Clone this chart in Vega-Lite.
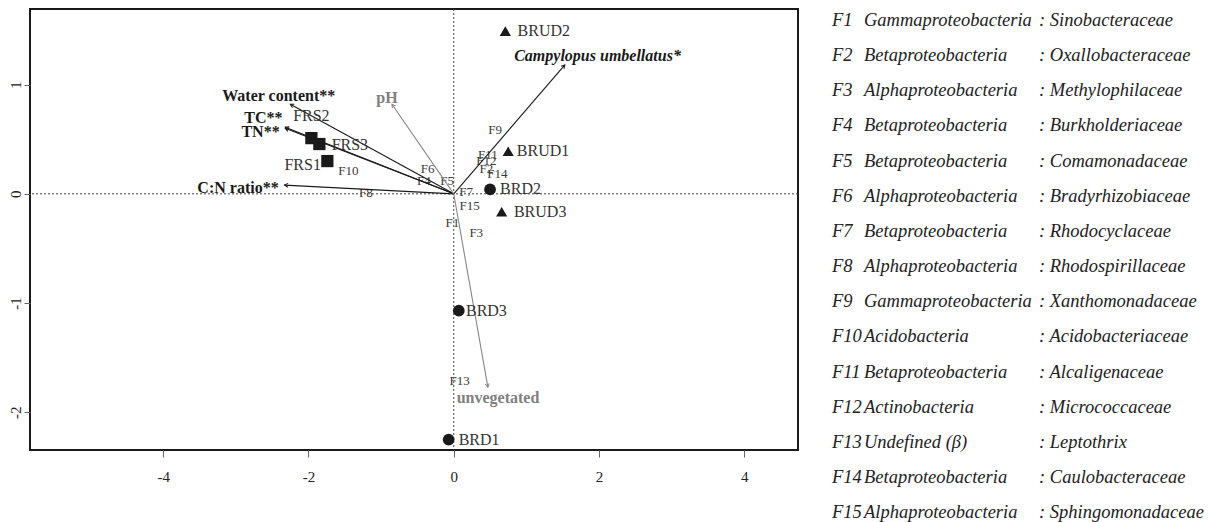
{
  "$schema": "https://vega.github.io/schema/vega-lite/v6.json",
  "padding": {"left": 7, "top": 7, "right": 0, "bottom": 0},
  "background": "white",
  "config": {"font": "Liberation Serif"},
  "datasets": {
    "sites": [
      {"site": "FRS1", "type": "FRS", "x": -1.74, "y": 0.30, "lx": -2.08, "ly": 0.26},
      {"site": "FRS2", "type": "FRS", "x": -1.96, "y": 0.51, "lx": -1.96, "ly": 0.71},
      {"site": "FRS3", "type": "FRS", "x": -1.85, "y": 0.456, "lx": -1.43, "ly": 0.45},
      {"site": "BRD1", "type": "BRD", "x": -0.07, "y": -2.25, "lx": 0.35, "ly": -2.25},
      {"site": "BRD2", "type": "BRD", "x": 0.50, "y": 0.04, "lx": 0.92, "ly": 0.04},
      {"site": "BRD3", "type": "BRD", "x": 0.07, "y": -1.07, "lx": 0.45, "ly": -1.07},
      {"site": "BRUD1", "type": "BRUD", "x": 0.75, "y": 0.39, "lx": 1.23, "ly": 0.39},
      {"site": "BRUD2", "type": "BRUD", "x": 0.71, "y": 1.49, "lx": 1.24, "ly": 1.49},
      {"site": "BRUD3", "type": "BRUD", "x": 0.66, "y": -0.164, "lx": 1.19, "ly": -0.166}
    ],
    "arrows": [
      {"var": "Campylopus umbellatus*", "kind": "moss", "ax": 1.53, "ay": 1.18, "lx": 1.98, "ly": 1.26},
      {"var": "Water content**", "kind": "sig", "ax": -2.25, "ay": 0.82, "lx": -2.41, "ly": 0.90},
      {"var": "TC**", "kind": "sig", "ax": -2.32, "ay": 0.61, "lx": -2.62, "ly": 0.69},
      {"var": "TN**", "kind": "sig", "ax": -2.32, "ay": 0.60, "lx": -2.66, "ly": 0.57},
      {"var": "C:N ratio**", "kind": "sig", "ax": -2.33, "ay": 0.08, "lx": -2.97, "ly": 0.054},
      {"var": "pH", "kind": "ns", "ax": -0.85, "ay": 0.82, "lx": -0.92, "ly": 0.88},
      {"var": "unvegetated", "kind": "ns", "ax": 0.47, "ay": -1.77, "lx": 0.61, "ly": -1.87}
    ],
    "families": [
      {"id": "F1", "x": -0.02, "y": -0.27, "cls": "Gammaproteobacteria", "fam": "Sinobacteraceae"},
      {"id": "F2", "x": 0.45, "y": 0.23, "cls": "Betaproteobacteria", "fam": "Oxallobacteraceae"},
      {"id": "F3", "x": 0.31, "y": -0.36, "cls": "Alphaproteobacteria", "fam": "Methylophilaceae"},
      {"id": "F4", "x": -0.41, "y": 0.12, "cls": "Betaproteobacteria", "fam": "Burkholderiaceae"},
      {"id": "F5", "x": -0.09, "y": 0.12, "cls": "Betaproteobacteria", "fam": "Comamonadaceae"},
      {"id": "F6", "x": -0.36, "y": 0.23, "cls": "Alphaproteobacteria", "fam": "Bradyrhizobiaceae"},
      {"id": "F7", "x": 0.17, "y": 0.02, "cls": "Betaproteobacteria", "fam": "Rhodocyclaceae"},
      {"id": "F8", "x": -1.21, "y": 0.01, "cls": "Alphaproteobacteria", "fam": "Rhodospirillaceae"},
      {"id": "F9", "x": 0.57, "y": 0.58, "cls": "Gammaproteobacteria", "fam": "Xanthomonadaceae"},
      {"id": "F10", "x": -1.45, "y": 0.21, "cls": "Acidobacteria", "fam": "Acidobacteriaceae"},
      {"id": "F11", "x": 0.47, "y": 0.36, "cls": "Betaproteobacteria", "fam": "Alcaligenaceae"},
      {"id": "F12", "x": 0.45, "y": 0.30, "cls": "Actinobacteria", "fam": "Micrococcaceae"},
      {"id": "F13", "x": 0.08, "y": -1.71, "cls": "Undefined (β)", "fam": "Leptothrix"},
      {"id": "F14", "x": 0.60, "y": 0.18, "cls": "Betaproteobacteria", "fam": "Caulobacteraceae"},
      {"id": "F15", "x": 0.22, "y": -0.11, "cls": "Alphaproteobacteria", "fam": "Sphingomonadaceae"}
    ]
  },
  "spacing": 32,
  "hconcat": [
    {
      "width": 768,
      "height": 441,
      "view": {"stroke": "#1a1a1a", "strokeWidth": 2},
      "layer": [
        {
          "data": {"name": "families"},
          "mark": {"type": "text", "fontSize": 13, "color": "#3a3a3a"},
          "encoding": {
            "x": {"field": "x", "type": "quantitative", "scale": {"domain": [-5.834, 4.74], "nice": false, "zero": false},
              "axis": {"values": [-4, -2, 0, 2, 4], "labelExpr": "'' + datum.value", "title": null, "grid": false, "domain": false, "tickSize": 7, "tickColor": "#666", "labelPadding": 12, "labelFontSize": 15, "labelColor": "#222", "labelFont": "Liberation Serif"}},
            "y": {"field": "y", "type": "quantitative", "scale": {"domain": [-2.345, 1.692], "nice": false, "zero": false},
              "axis": {"values": [-2, -1, 0, 1], "labelExpr": "'' + datum.value", "title": null, "grid": false, "domain": false, "tickSize": 6, "tickColor": "#666", "labelPadding": 4, "labelAngle": -90, "labelAlign": "center", "labelBaseline": "alphabetic", "labelFontSize": 15, "labelColor": "#222", "labelFont": "Liberation Serif"}},
            "text": {"field": "id", "type": "nominal"}
          }
        },
        {"data": {"values": [{"v": 0}]}, "mark": {"type": "rule", "color": "#444", "strokeDash": [2, 2], "strokeWidth": 1}, "encoding": {"y": {"field": "v", "type": "quantitative"}}},
        {"data": {"values": [{"v": 0}]}, "mark": {"type": "rule", "color": "#444", "strokeDash": [2, 2], "strokeWidth": 1}, "encoding": {"x": {"field": "v", "type": "quantitative"}}},
        {
          "data": {"name": "arrows"},
          "transform": [{"calculate": "0", "as": "o"}],
          "mark": {"type": "rule", "strokeWidth": 1.1},
          "encoding": {
            "x": {"field": "o", "type": "quantitative"},
            "y": {"field": "o", "type": "quantitative"},
            "x2": {"field": "ax"},
            "y2": {"field": "ay"},
            "color": {"field": "kind", "type": "nominal", "scale": {"domain": ["moss", "sig", "ns"], "range": ["#1a1a1a", "#1a1a1a", "#888888"]}, "legend": null}
          }
        },
        {
          "data": {"name": "arrows"},
          "transform": [{"calculate": "atan2(datum.ax*72.66, datum.ay*109.23)*180/PI", "as": "ang"}],
          "mark": {"type": "point", "shape": "M-0.55,1L0,0L0.55,1", "filled": false, "size": 50, "strokeWidth": 1, "opacity": 1},
          "encoding": {
            "x": {"field": "ax", "type": "quantitative"},
            "y": {"field": "ay", "type": "quantitative"},
            "angle": {"field": "ang", "type": "quantitative", "scale": null},
            "color": {"field": "kind", "type": "nominal", "scale": {"domain": ["moss", "sig", "ns"], "range": ["#1a1a1a", "#1a1a1a", "#888888"]}, "legend": null}
          }
        },
        {
          "data": {"name": "arrows"},
          "transform": [{"filter": "datum.kind == 'sig'"}],
          "mark": {"type": "text", "fontWeight": "bold", "fontSize": 16, "color": "#1a1a1a"},
          "encoding": {"x": {"field": "lx", "type": "quantitative"}, "y": {"field": "ly", "type": "quantitative"}, "text": {"field": "var", "type": "nominal"}}
        },
        {
          "data": {"name": "arrows"},
          "transform": [{"filter": "datum.kind == 'ns'"}],
          "mark": {"type": "text", "fontWeight": "bold", "fontSize": 16, "color": "#808080"},
          "encoding": {"x": {"field": "lx", "type": "quantitative"}, "y": {"field": "ly", "type": "quantitative"}, "text": {"field": "var", "type": "nominal"}}
        },
        {
          "data": {"name": "arrows"},
          "transform": [{"filter": "datum.kind == 'moss'"}],
          "mark": {"type": "text", "fontWeight": "bold", "fontStyle": "italic", "fontSize": 16, "color": "#1a1a1a"},
          "encoding": {"x": {"field": "lx", "type": "quantitative"}, "y": {"field": "ly", "type": "quantitative"}, "text": {"field": "var", "type": "nominal"}}
        },
        {
          "data": {"name": "sites"},
          "mark": {"type": "point", "filled": true, "opacity": 1, "color": "#1a1a1a"},
          "encoding": {
            "x": {"field": "x", "type": "quantitative"},
            "y": {"field": "y", "type": "quantitative"},
            "shape": {"field": "type", "type": "nominal", "scale": {"domain": ["FRS", "BRD", "BRUD"], "range": ["square", "circle", "triangle-up"]}, "legend": null},
            "size": {"field": "type", "type": "nominal", "scale": {"domain": ["FRS", "BRD", "BRUD"], "range": [150, 125, 200]}, "legend": null}
          }
        },
        {
          "data": {"name": "sites"},
          "mark": {"type": "text", "fontSize": 16, "color": "#333"},
          "encoding": {"x": {"field": "lx", "type": "quantitative"}, "y": {"field": "ly", "type": "quantitative"}, "text": {"field": "site", "type": "nominal"}}
        }
      ]
    },
    {
      "width": 380,
      "height": 514,
      "view": {"stroke": null},
      "data": {"name": "families"},
      "transform": [{"calculate": "': ' + datum.fam", "as": "famtxt"}, {"calculate": "0", "as": "c0"}, {"calculate": "32", "as": "c1"}, {"calculate": "207", "as": "c2"}],
      "layer": [
        {
          "mark": {"type": "text", "align": "left", "fontStyle": "italic", "fontSize": 18.5, "color": "#222"},
          "encoding": {
            "x": {"field": "c0", "type": "quantitative", "scale": {"domain": [0, 380], "nice": false, "zero": false}, "axis": null},
            "y": {"field": "id", "type": "ordinal", "sort": null, "scale": {"type": "point", "range": [10.8, 503.3], "padding": 0}, "axis": null},
            "text": {"field": "id", "type": "nominal"}
          }
        },
        {
          "mark": {"type": "text", "align": "left", "fontStyle": "italic", "fontSize": 18.5, "color": "#222"},
          "encoding": {"x": {"field": "c1", "type": "quantitative"}, "y": {"field": "id", "type": "ordinal", "sort": null}, "text": {"field": "cls", "type": "nominal"}}
        },
        {
          "mark": {"type": "text", "align": "left", "fontStyle": "italic", "fontSize": 18.5, "color": "#222"},
          "encoding": {"x": {"field": "c2", "type": "quantitative"}, "y": {"field": "id", "type": "ordinal", "sort": null}, "text": {"field": "famtxt", "type": "nominal"}}
        }
      ]
    }
  ]
}
